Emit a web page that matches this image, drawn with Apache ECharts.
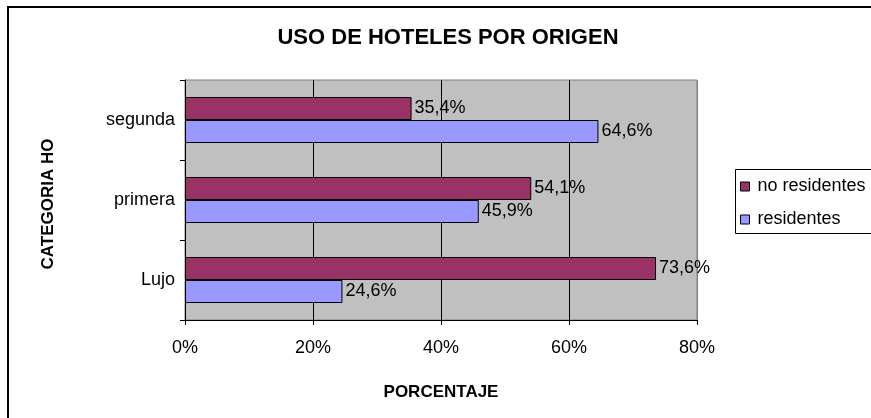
<!DOCTYPE html>
<html>
<head>
<meta charset="utf-8">
<script src="https://cdn.jsdelivr.net/npm/echarts@6/dist/echarts.min.js"></script>
<style>
  html, body { margin: 0; padding: 0; background: #fff; }
  #chart { width: 871px; height: 418px; }
</style>
</head>
<body>
<div id="chart"></div>
<script>
// categorias de abajo hacia arriba
var categorias = ['Lujo', 'primera', 'segunda'];
var noResidentes = [73.6, 54.1, 35.4];
var residentes = [24.6, 45.9, 64.6];
var ticksX = [0, 20, 40, 60, 80];

var fuente = 'Liberation Sans';

function pct(v) {
    return v.toFixed(1).replace('.', ',') + '%';
}

var myChart = echarts.init(document.getElementById('chart'));

var option = {
    backgroundColor: '#fff',
    animation: false,
    title: {
        text: 'USO DE HOTELES POR ORIGEN',
        left: 443,
        textAlign: 'center',
        top: 22,
        textStyle: { fontFamily: fuente, fontSize: 22, fontWeight: 'bold', color: '#000' }
    },
    legend: {
        orient: 'vertical',
        left: 740,
        top: 177,
        padding: 0,
        itemWidth: 9,
        itemHeight: 9,
        itemGap: 14,
        icon: 'rect',
        data: ['no residentes', 'residentes'],
        itemStyle: { borderColor: '#000', borderWidth: 1 },
        textStyle: { fontFamily: fuente, fontSize: 18, color: '#000', lineHeight: 19, padding: [0, 0, 0, 3] }
    },
    grid: {
        left: 185,
        right: 174,
        top: 80,
        bottom: 98,
        show: true,
        backgroundColor: '#C0C0C0',
        borderColor: '#808080',
        borderWidth: 1
    },
    xAxis: {
        type: 'value',
        min: ticksX[0],
        max: ticksX[ticksX.length - 1],
        interval: 20,
        name: 'PORCENTAJE',
        nameLocation: 'middle',
        nameGap: 64,
        nameTextStyle: { fontFamily: fuente, fontSize: 17, fontWeight: 'bold', color: '#000' },
        axisLine: { show: true, lineStyle: { color: '#000', width: 1 } },
        axisTick: { show: true, length: 5, lineStyle: { color: '#000' } },
        axisLabel: {
            margin: 19,
            fontFamily: fuente,
            fontSize: 18,
            color: '#000',
            formatter: '{value}%'
        },
        splitLine: {
            show: true,
            lineStyle: { color: ['#000', '#000', '#000', '#000', '#808080'], width: 1 }
        }
    },
    yAxis: {
        type: 'category',
        data: categorias,
        name: 'CATEGORIA HO',
        nameLocation: 'middle',
        nameGap: 128,
        nameRotate: 90,
        nameTextStyle: { fontFamily: fuente, fontSize: 17, fontWeight: 'bold', color: '#000', padding: [0, 8, 0, 0] },
        axisLine: { show: true, lineStyle: { color: '#000', width: 1 } },
        axisTick: { show: true, length: 5, lineStyle: { color: '#000' } },
        axisLabel: { margin: 10, fontFamily: fuente, fontSize: 18, color: '#000' },
        splitLine: { show: false }
    },
    series: [
        {
            name: 'no residentes',
            type: 'bar',
            data: noResidentes,
            barWidth: 23,
            barGap: '0%',
            itemStyle: { color: '#993366', borderColor: '#000', borderWidth: 1 },
            label: {
                show: true,
                position: 'right',
                distance: 3,
                fontFamily: fuente,
                fontSize: 18,
                color: '#000',
                formatter: function (p) { return pct(p.value); }
            }
        },
        {
            name: 'residentes',
            type: 'bar',
            data: residentes,
            barWidth: 23,
            barGap: '0%',
            itemStyle: { color: '#9999FF', borderColor: '#000', borderWidth: 1 },
            label: {
                show: true,
                position: 'right',
                distance: 3,
                fontFamily: fuente,
                fontSize: 18,
                color: '#000',
                formatter: function (p) { return pct(p.value); }
            }
        }
    ],
    graphic: [
        // marco exterior del grafico
        {
            type: 'rect',
            shape: { x: 8, y: 7, width: 900, height: 450 },
            style: { fill: null, stroke: '#000', lineWidth: 2 },
            silent: true
        },
        // caja de la leyenda
        {
            type: 'rect',
            shape: { x: 735.5, y: 169.5, width: 160, height: 64 },
            style: { fill: null, stroke: '#000', lineWidth: 1 },
            silent: true
        }
    ]
};

myChart.setOption(option);
</script>
</body>
</html>
